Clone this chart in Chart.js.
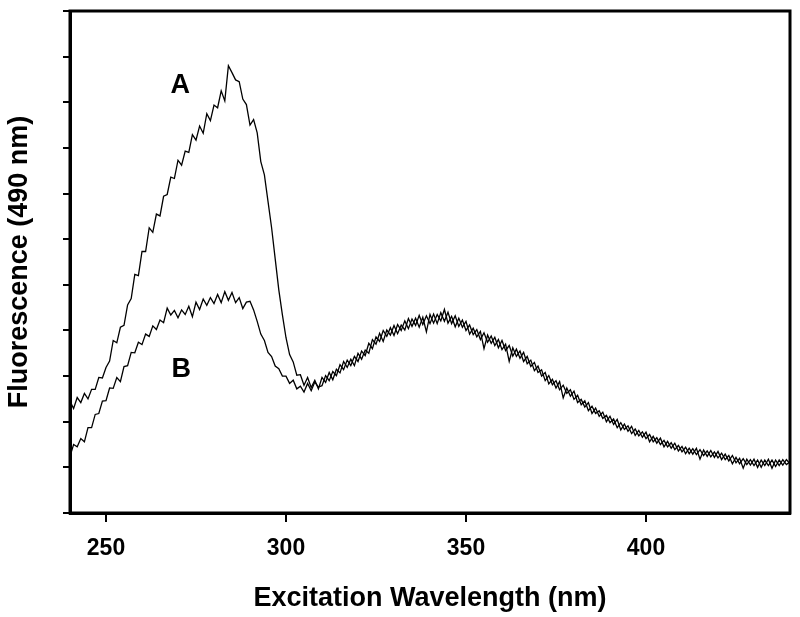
<!DOCTYPE html>
<html>
<head>
<meta charset="utf-8">
<script src="https://cdn.jsdelivr.net/npm/chart.js@4/dist/chart.umd.min.js"></script>
<style>
  html, body { margin: 0; padding: 0; background: #fff; }
  #chart { display: block; }
</style>
</head>
<body>
<canvas id="chart" width="800" height="617"></canvas>
<script>
// excitation wavelength (nm), 1 nm steps
const wavelengths = [
  240, 241, 242, 243, 244, 245, 246, 247, 248, 249,
  250, 251, 252, 253, 254, 255, 256, 257, 258, 259,
  260, 261, 262, 263, 264, 265, 266, 267, 268, 269,
  270, 271, 272, 273, 274, 275, 276, 277, 278, 279,
  280, 281, 282, 283, 284, 285, 286, 287, 288, 289,
  290, 291, 292, 293, 294, 295, 296, 297, 298, 299,
  300, 301, 302, 303, 304, 305, 306, 307, 308, 309,
  310, 311, 312, 313, 314, 315, 316, 317, 318, 319,
  320, 321, 322, 323, 324, 325, 326, 327, 328, 329,
  330, 331, 332, 333, 334, 335, 336, 337, 338, 339,
  340, 341, 342, 343, 344, 345, 346, 347, 348, 349,
  350, 351, 352, 353, 354, 355, 356, 357, 358, 359,
  360, 361, 362, 363, 364, 365, 366, 367, 368, 369,
  370, 371, 372, 373, 374, 375, 376, 377, 378, 379,
  380, 381, 382, 383, 384, 385, 386, 387, 388, 389,
  390, 391, 392, 393, 394, 395, 396, 397, 398, 399,
  400, 401, 402, 403, 404, 405, 406, 407, 408, 409,
  410, 411, 412, 413, 414, 415, 416, 417, 418, 419,
  420, 421, 422, 423, 424, 425, 426, 427, 428, 429,
  430, 431, 432, 433, 434, 435, 436, 437, 438, 439,
  440
];

// curve A (arbitrary fluorescence units)
const seriesA = [
  2.45, 2.29, 2.53, 2.42, 2.62, 2.50, 2.71, 2.71, 2.97, 2.96,
  3.19, 3.33, 3.78, 3.73, 4.07, 4.11, 4.56, 4.70, 5.23, 5.20,
  5.73, 5.73, 6.25, 6.15, 6.55, 6.51, 6.94, 6.98, 7.36, 7.33,
  7.73, 7.62, 7.93, 7.90, 8.29, 8.17, 8.48, 8.32, 8.75, 8.60,
  8.94, 8.88, 9.25, 9.03, 9.80, 9.65, 9.49, 9.45, 9.07, 8.95,
  8.50, 8.62, 8.33, 7.70, 7.41, 6.83, 6.25, 5.57, 4.89, 4.34,
  3.84, 3.47, 3.31, 3.02, 3.03, 2.80, 2.97, 2.75, 2.91, 2.72,
  2.97, 2.86, 3.08, 2.92, 3.15, 3.07, 3.32, 3.19, 3.37, 3.23,
  3.50, 3.37, 3.57, 3.50, 3.80, 3.70, 3.94, 3.76, 4.01, 3.90,
  4.11, 3.93, 4.12, 4.01, 4.26, 4.09, 4.27, 4.07, 4.29, 3.97,
  4.35, 4.16, 4.35, 4.21, 4.46, 4.16, 4.31, 4.08, 4.27, 4.07,
  4.20, 3.92, 4.05, 3.86, 3.98, 3.60, 3.90, 3.72, 3.85, 3.62,
  3.78, 3.56, 3.67, 3.44, 3.59, 3.39, 3.52, 3.27, 3.35, 3.12,
  3.22, 3.00, 3.08, 2.83, 2.93, 2.74, 2.88, 2.52, 2.74, 2.56,
  2.67, 2.42, 2.49, 2.32, 2.42, 2.18, 2.30, 2.12, 2.21, 2.00,
  2.12, 1.94, 2.05, 1.82, 1.95, 1.79, 1.90, 1.70, 1.81, 1.66,
  1.77, 1.56, 1.68, 1.53, 1.64, 1.45, 1.57, 1.42, 1.53, 1.36,
  1.46, 1.30, 1.42, 1.29, 1.42, 1.18, 1.38, 1.24, 1.37, 1.22,
  1.35, 1.17, 1.29, 1.14, 1.26, 1.10, 1.20, 0.98, 1.18, 1.05,
  1.18, 1.00, 1.16, 1.04, 1.18, 0.98, 1.16, 1.04, 1.17, 1.06,
  1.12
];

// curve B
const seriesB = [
  1.24, 1.50, 1.45, 1.63, 1.56, 1.87, 1.87, 2.16, 2.18, 2.45,
  2.46, 2.74, 2.73, 2.97, 2.88, 3.21, 3.23, 3.52, 3.51, 3.74,
  3.69, 3.92, 3.87, 4.10, 4.02, 4.23, 4.17, 4.49, 4.34, 4.44,
  4.28, 4.45, 4.35, 4.53, 4.30, 4.62, 4.46, 4.69, 4.55, 4.72,
  4.59, 4.79, 4.61, 4.85, 4.66, 4.83, 4.61, 4.72, 4.48, 4.62,
  4.64, 4.45, 4.20, 3.92, 3.78, 3.52, 3.43, 3.22, 3.16, 3.00,
  3.00, 2.84, 2.91, 2.72, 2.78, 2.65, 2.84, 2.68, 2.87, 2.76,
  2.79, 3.01, 2.90, 3.10, 3.01, 3.25, 3.14, 3.35, 3.23, 3.43,
  3.32, 3.55, 3.45, 3.72, 3.60, 3.86, 3.76, 4.00, 3.87, 4.06,
  3.89, 4.13, 4.00, 4.21, 4.04, 4.25, 4.11, 4.33, 4.13, 4.32,
  4.15, 4.36, 4.15, 4.39, 4.20, 4.40, 4.15, 4.32, 4.09, 4.23,
  4.00, 4.12, 3.91, 4.02, 3.80, 3.95, 3.74, 3.88, 3.67, 3.80,
  3.58, 3.70, 3.32, 3.62, 3.43, 3.55, 3.32, 3.43, 3.21, 3.30,
  3.08, 3.14, 2.90, 3.01, 2.81, 2.90, 2.70, 2.80, 2.62, 2.70,
  2.49, 2.58, 2.37, 2.46, 2.24, 2.34, 2.18, 2.24, 2.07, 2.14,
  1.98, 2.06, 1.87, 1.98, 1.83, 1.91, 1.74, 1.84, 1.69, 1.78,
  1.63, 1.72, 1.56, 1.65, 1.50, 1.59, 1.45, 1.54, 1.39, 1.48,
  1.34, 1.44, 1.30, 1.41, 1.28, 1.39, 1.26, 1.36, 1.23, 1.34,
  1.21, 1.31, 1.17, 1.26, 1.08, 1.22, 1.08, 1.19, 1.06, 1.17,
  1.04, 1.16, 1.00, 1.16, 1.04, 1.16, 1.02, 1.16, 1.05, 1.17,
  1.08
];

const xTicks = [250, 300, 350, 400];
const yTicks = [0, 1, 2, 3, 4, 5, 6, 7, 8, 9, 10, 11];

// curve labels, in data coordinates
const curveLabels = [
  { text: 'A', x: 270.6, y: 9.36 },
  { text: 'B', x: 270.9, y: 3.14 }
];

const FONT = 'Liberation Sans, Arial, Helvetica, sans-serif';

const toPoints = (ys) => wavelengths.map((x, i) => ({ x: x, y: ys[i] }));

// frame round the plot area plus the A / B labels
const framePlugin = {
    id: 'frame',
    afterDraw(chart) {
        const { ctx, chartArea, scales } = chart;
        ctx.save();
        ctx.strokeStyle = '#000';
        ctx.lineWidth = 3;
        ctx.strokeRect(chartArea.left, chartArea.top,
            chartArea.right - chartArea.left, chartArea.bottom - chartArea.top);

        ctx.fillStyle = '#000';
        ctx.font = 'bold 27px ' + FONT;
        ctx.textAlign = 'center';
        ctx.textBaseline = 'middle';
        curveLabels.forEach((l) => {
            ctx.fillText(l.text, scales.x.getPixelForValue(l.x), scales.y.getPixelForValue(l.y));
        });
        ctx.restore();
    }
};

new Chart(document.getElementById('chart').getContext('2d'), {
    type: 'line',
    data: {
        datasets: [
            {
                label: 'A',
                data: toPoints(seriesA),
                borderColor: '#000',
                borderWidth: 1.3,
                pointRadius: 0,
                tension: 0,
                fill: false
            },
            {
                label: 'B',
                data: toPoints(seriesB),
                borderColor: '#000',
                borderWidth: 1.3,
                pointRadius: 0,
                tension: 0,
                fill: false
            }
        ]
    },
    options: {
        responsive: false,
        animation: false,
        layout: { padding: { left: 0, right: 10, top: 11, bottom: 0 } },
        plugins: {
            legend: { display: false },
            tooltip: { enabled: false }
        },
        scales: {
            x: {
                type: 'linear',
                min: 240,
                max: 440,
                afterBuildTicks: (scale) => { scale.ticks = xTicks.map((v) => ({ value: v })); },
                afterFit: (scale) => { scale.height = 104; },
                border: { display: true, color: '#000', width: 3 },
                grid: { drawOnChartArea: false, drawTicks: true, tickLength: 9, color: '#000', lineWidth: 2 },
                ticks: {
                    color: '#000',
                    padding: 13,
                    maxRotation: 0,
                    font: { family: FONT, size: 23, weight: 'bold' }
                },
                title: {
                    display: true,
                    text: 'Excitation Wavelength (nm)',
                    color: '#000',
                    padding: { top: 0, bottom: 2 },
                    font: { family: FONT, size: 27, weight: 'bold' }
                }
            },
            y: {
                type: 'linear',
                min: 0,
                max: 11,
                afterBuildTicks: (scale) => { scale.ticks = yTicks.map((v) => ({ value: v })); },
                afterFit: (scale) => { scale.width = 70; },
                border: { display: true, color: '#000', width: 3 },
                grid: { drawOnChartArea: false, drawTicks: true, tickLength: 7, color: '#000', lineWidth: 2 },
                ticks: { display: false },
                title: {
                    display: true,
                    text: 'Fluorescence (490 nm)',
                    color: '#000',
                    padding: { top: 3, bottom: 0 },
                    font: { family: FONT, size: 27, weight: 'bold' }
                }
            }
        }
    },
    plugins: [framePlugin]
});
</script>
</body>
</html>
